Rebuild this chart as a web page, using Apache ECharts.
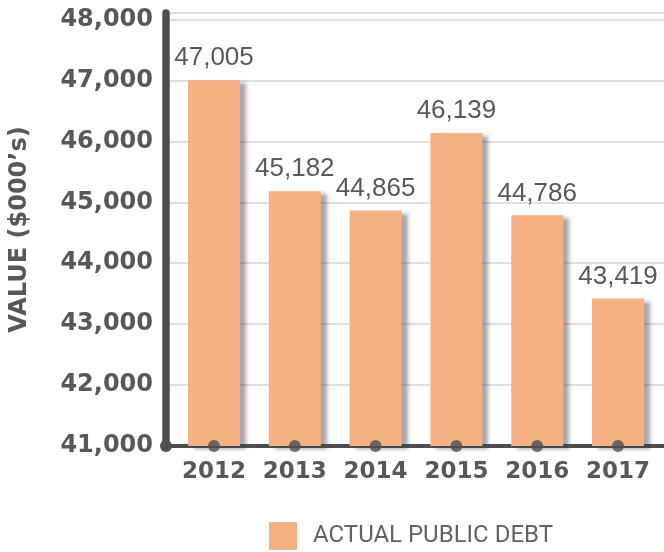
<!DOCTYPE html>
<html>
<head>
<meta charset="utf-8">
<script src="https://cdn.jsdelivr.net/npm/echarts@6/dist/echarts.min.js"></script>
<style>
  html, body { margin: 0; padding: 0; background: #ffffff; }
  #chart { width: 664px; height: 552px; }
</style>
</head>
<body>
<div id="chart"></div>
<script>
// Actual public debt by year, in thousands of dollars
const years = ['2012', '2013', '2014', '2015', '2016', '2017'];
const debtValues = [47005, 45182, 44865, 46139, 44786, 43419];
const seriesName = 'ACTUAL PUBLIC DEBT';
const axisTitle = 'VALUE ($000\u2019s)';
const yMin = 41000;
const yMax = 48107;
const yStep = 1000;

const AXIS_DARK = '#4e4e52';
const TEXT_DARK = '#58585a';
const BAR_COLOR = '#f5b084';
const GRID_GRAY = '#d4d4d4';

const chart = echarts.init(document.getElementById('chart'), null, { renderer: 'canvas' });

const fmt = v => v.toLocaleString('en-US');

chart.setOption({
  animation: false,
  backgroundColor: '#ffffff',
  grid: [
    { left: 161, right: 0, top: 13, bottom: 106 },
    { left: 173.6, right: 5.6, top: 13, bottom: 106 }
  ],
  legend: {
    left: 269,
    top: 522,
    padding: 0,
    itemWidth: 28,
    itemHeight: 28,
    icon: 'rect',
    data: [seriesName],
    textStyle: {
      fontFamily: 'Roboto',
      fontSize: 24,
      color: '#636363',
      padding: [0, 0, 0, 11]
    }
  },
  xAxis: [
    {
      gridIndex: 0,
      type: 'value',
      min: 0,
      max: 1,
      axisLine: {
        show: true,
        onZero: false,
        symbol: ['circle', 'none'],
        symbolSize: [12, 12],
        lineStyle: { color: AXIS_DARK, width: 4 }
      },
      axisTick: { show: false },
      axisLabel: { show: false },
      splitLine: { show: false }
    },
    {
      gridIndex: 1,
      type: 'category',
      data: years,
      axisLine: { show: false },
      axisTick: { show: false },
      axisLabel: {
        interval: 0,
        margin: 15,
        fontFamily: 'DejaVu Sans',
        fontWeight: 'bold',
        fontSize: 23,
        color: TEXT_DARK
      }
    }
  ],
  yAxis: [
    {
      gridIndex: 0,
      type: 'value',
      min: yMin,
      max: yMax,
      interval: yStep,
      name: axisTitle,
      nameLocation: 'middle',
      nameRotate: 90,
      nameGap: 134,
      nameTextStyle: {
        fontFamily: 'DejaVu Sans',
        fontWeight: 'bold',
        fontSize: 24,
        color: TEXT_DARK
      },
      axisLine: { show: true, lineStyle: { color: AXIS_DARK, width: 7.5 } },
      axisTick: { show: false },
      axisLabel: {
        margin: 13,
        fontFamily: 'DejaVu Sans',
        fontWeight: 'bold',
        fontSize: 24,
        color: TEXT_DARK,
        formatter: v => (v % yStep === 0 ? fmt(v) : '')
      },
      splitLine: {
        show: true,
        showMinLine: false,
        lineStyle: { color: GRID_GRAY, width: 1.5 }
      }
    },
    {
      gridIndex: 1,
      type: 'value',
      min: yMin,
      max: yMax,
      interval: yStep,
      show: false,
      splitLine: { show: false }
    }
  ],
  series: [
    {
      name: seriesName,
      type: 'bar',
      xAxisIndex: 1,
      yAxisIndex: 1,
      data: debtValues,
      barWidth: 52,
      itemStyle: {
        color: BAR_COLOR,
        shadowColor: 'rgba(60,60,70,0.45)',
        shadowBlur: 4,
        shadowOffsetX: 6,
        shadowOffsetY: 3
      },
      label: {
        show: true,
        position: 'top',
        distance: 9,
        fontFamily: 'Liberation Sans',
        fontSize: 26,
        color: '#595959',
        formatter: p => fmt(p.value)
      },
      z: 3
    },
    {
      // axis markers at each year
      type: 'scatter',
      xAxisIndex: 1,
      yAxisIndex: 1,
      data: years.map(() => yMin),
      symbol: 'circle',
      symbolSize: 12,
      clip: false,
      itemStyle: { color: AXIS_DARK },
      silent: true,
      z: 5
    }
  ]
});
</script>
</body>
</html>
